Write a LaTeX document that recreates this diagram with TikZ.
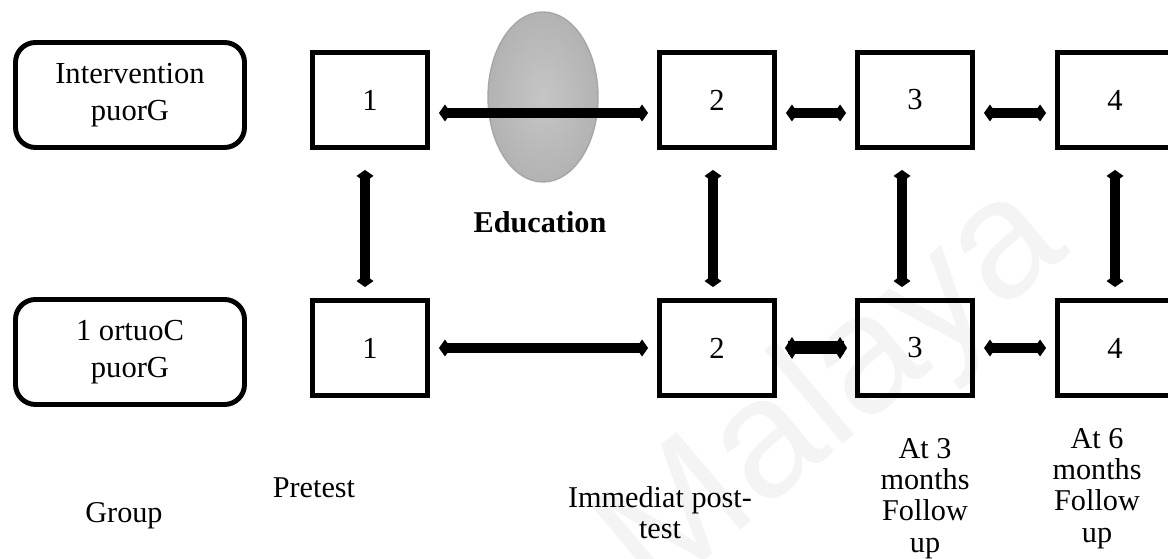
\documentclass[tikz,border=0pt]{standalone}
\usepackage{fontspec}
\setmainfont{Liberation Serif}
\setsansfont{Liberation Sans}
\usetikzlibrary{arrows.meta,shapes.geometric}

\begin{document}
\begin{tikzpicture}[
    grpbox/.style={draw, line width=2.8pt, rounded corners=0.4cm, minimum width=4.58cm, minimum height=2.1cm, align=center, font=\fontsize{17.4}{21}\selectfont},
    stagebox/.style={draw, line width=2.8pt, minimum width=2.3cm, minimum height=1.9cm, font=\fontsize{17.4}{20}\selectfont},
    link/.style={line width=5.7pt, {Diamond[length=2.4mm,width=3.4mm]}-{Diamond[length=2.4mm,width=3.4mm]}, shorten <=0.18cm, shorten >=0.18cm},
    boldlink/.style={line width=7.4pt, {Diamond[length=2.8mm,width=4.4mm]}-{Diamond[length=2.8mm,width=4.4mm]}, shorten <=0.16cm, shorten >=0.16cm},
    vlink/.style={link, shorten <=0.4cm, shorten >=0.22cm},
    note/.style={align=center, inner sep=0pt, font=\fontsize{17.2}{17.8}\selectfont}
]
        \clip (0,0) rectangle (23.36,11.18);

        % watermark
        \node (mark) at (16.7,3.3) [rotate=40, text=gray!9, font=\sffamily\fontsize{96}{96}\selectfont] {Malaya};

        % groups
        \node (ig) at (2.6,9.28) [grpbox] {Intervention\\puorG};
        \node (cg) at (2.6,4.14) [grpbox] {1 ortuoC\\puorG};

        % education
        \node (edu) at (10.86,9.24) [ellipse, minimum width=2.2cm, minimum height=3.4cm, draw=gray!70, line width=0.8pt, inner color=gray!45, outer color=gray!60] {};
        \node (edutxt) at (10.8,6.52) [anchor=base, font=\bfseries\fontsize{17.2}{20}\selectfont] {Education};

        % stages
        \node (i1) at (7.4,9.18) [stagebox] {1};
        \node (i2) at (14.34,9.18) [stagebox] {2};
        \node (i3) at (18.3,9.18) [stagebox] {3};
        \node (i4) at (22.3,9.18) [stagebox] {4};
        \node (c1) at (7.4,4.22) [stagebox] {1};
        \node (c2) at (14.34,4.22) [stagebox] {2};
        \node (c3) at (18.3,4.22) [stagebox] {3};
        \node (c4) at (22.3,4.22) [stagebox] {4};

        \draw[link] ([yshift=-0.26cm]i1.east) -- ([yshift=-0.26cm]i2.west);
        \draw[link] ([yshift=-0.26cm]i2.east) -- ([yshift=-0.26cm]i3.west);
        \draw[link] ([yshift=-0.26cm]i3.east) -- ([yshift=-0.26cm]i4.west);
        \draw[link] (c1) -- (c2);
        \draw[boldlink] (c2) -- (c3);
        \draw[link] (c3) -- (c4);

        \draw[vlink] ([xshift=-0.1cm]i1.south) -- ([xshift=-0.1cm]c1.north);
        \draw[vlink] ([xshift=-0.08cm]i2.south) -- ([xshift=-0.08cm]c2.north);
        \draw[vlink] ([xshift=-0.26cm]i3.south) -- ([xshift=-0.26cm]c3.north);
        \draw[vlink] (i4.south) -- (c4.north);

        % labels
        \node (grp) at (2.48,0.72) [note, anchor=base] {Group};
        \node (pre) at (6.28,1.22) [note, anchor=base] {Pretest};
        \node (post) at (13.2,1.46) [note, anchor=north] {Immediat post-\\test};
        \node (fu3) at (18.5,2.42) [note, anchor=north] {At 3\\months\\Follow\\up};
        \node (fu6) at (21.94,2.62) [note, anchor=north] {At 6\\months\\Follow\\up};
\end{tikzpicture}
\end{document}
